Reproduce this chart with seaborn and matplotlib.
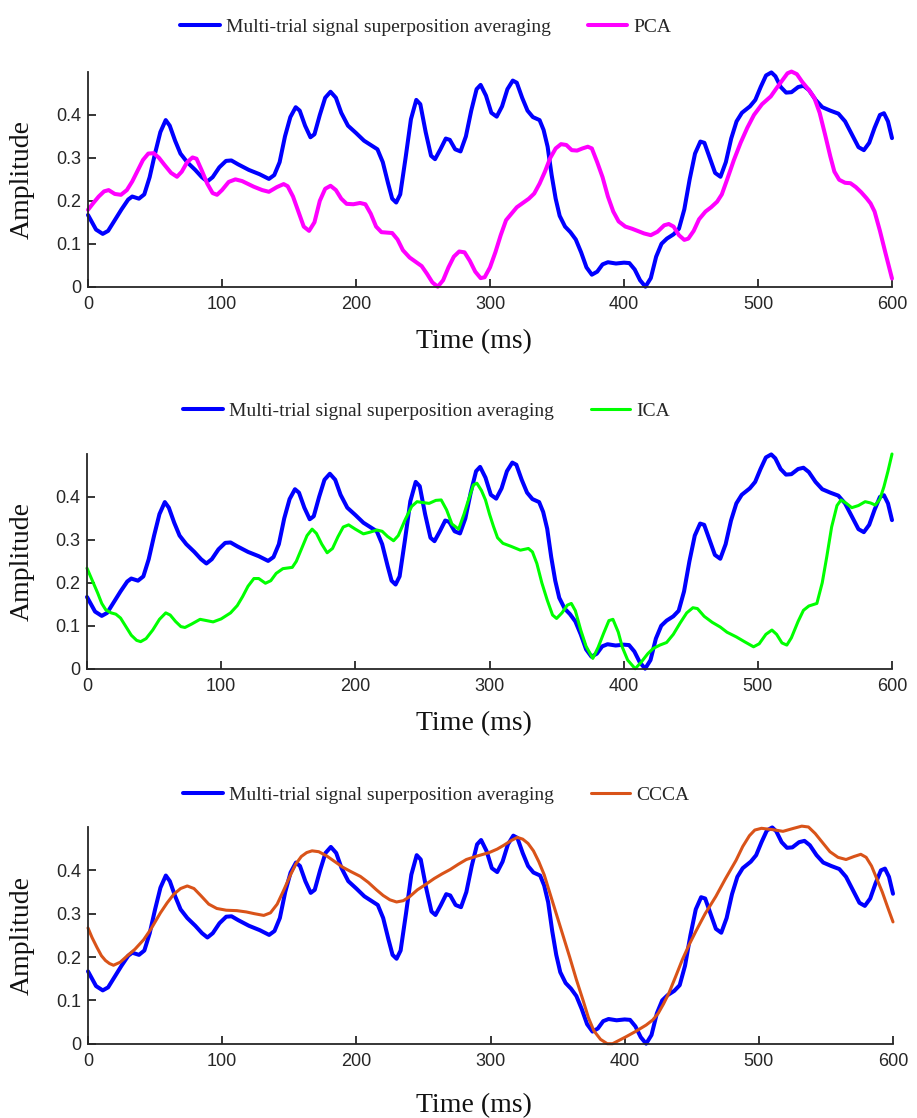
import numpy as np
import pandas as pd
import matplotlib
matplotlib.use("Agg")
import matplotlib.pyplot as plt
import seaborn as sns
from matplotlib.font_manager import FontProperties

# ---------------- data ----------------
t_avg = [0, 3, 6, 11, 15, 20, 25, 30, 33, 38, 42, 46, 50, 54, 58, 61, 65, 69, 74, 80, 85, 89,
         93, 98, 103, 107, 112, 120, 128, 135, 139, 143, 147, 151, 155, 158, 162, 166, 169,
         173, 177, 181, 185, 189, 194, 200, 206, 211, 216, 220, 224, 227, 230, 233, 237, 241,
         245, 248, 252, 256, 259, 263, 267, 270, 274, 278, 282, 286, 290, 293, 297, 301, 305,
         309, 313, 317, 320, 324, 328, 332, 337, 340, 343, 346, 349, 352, 356, 360, 364, 368,
         372, 376, 380, 384, 388, 394, 400, 404, 408, 412, 416, 420, 424, 428, 432, 437, 441,
         445, 449, 453, 457, 460, 464, 468, 472, 476, 480, 484, 488, 494, 498, 502, 506, 510,
         513, 517, 521, 525, 530, 534, 538, 543, 548, 554, 560, 565, 570, 575, 579, 583, 587,
         591, 594, 597, 600]
v_avg = [0.167, 0.15, 0.133, 0.123, 0.13, 0.155, 0.18, 0.203, 0.21, 0.205, 0.215, 0.255, 0.31,
         0.36, 0.388, 0.375, 0.34, 0.31, 0.29, 0.272, 0.255, 0.245, 0.255, 0.278, 0.293, 0.294,
         0.285, 0.272, 0.262, 0.251, 0.26, 0.29, 0.35, 0.395, 0.418, 0.41, 0.375, 0.348, 0.355,
         0.4, 0.44, 0.454, 0.44, 0.405, 0.375, 0.358, 0.34, 0.33, 0.32, 0.29, 0.24, 0.205,
         0.196, 0.215, 0.3, 0.39, 0.435, 0.425, 0.36, 0.305, 0.297, 0.32, 0.345, 0.342, 0.32,
         0.315, 0.35, 0.41, 0.46, 0.47, 0.445, 0.405, 0.396, 0.42, 0.46, 0.48, 0.475, 0.44,
         0.41, 0.395, 0.388, 0.365, 0.326, 0.26, 0.205, 0.165, 0.14, 0.127, 0.11, 0.08, 0.045,
         0.028, 0.035, 0.052, 0.057, 0.054, 0.056, 0.055, 0.04, 0.015, 0.0, 0.02, 0.07, 0.1,
         0.112, 0.122, 0.135, 0.18, 0.25, 0.31, 0.338, 0.335, 0.3, 0.265, 0.256, 0.29, 0.345,
         0.385, 0.405, 0.42, 0.435, 0.465, 0.492, 0.499, 0.49, 0.465, 0.452, 0.453, 0.465,
         0.468, 0.458, 0.435, 0.418, 0.41, 0.403, 0.385, 0.355, 0.325, 0.318, 0.335, 0.37, 0.4,
         0.404, 0.385, 0.346]

t_pca = [0, 4, 8, 12, 15.4, 20, 24.6, 29, 33, 37, 41, 45, 49, 53, 57, 62, 66.4, 70, 74, 78,
         81, 85, 89, 93, 96.3, 100, 105, 110, 115, 123.6, 130, 135, 141, 146, 149, 153, 157,
         161, 165, 169, 173, 177, 181, 185, 189, 193, 198, 203, 207, 211, 215, 219, 223, 227,
         231, 235, 240, 245, 249, 253, 257, 261, 265, 269, 273, 277, 281, 285, 289, 293, 296,
         300, 304, 308, 312, 316, 320, 324, 329, 333, 337, 341, 345, 349, 353, 357, 361, 365,
         369, 373, 376, 380, 384, 388, 392, 396, 401, 406, 410, 415, 420, 425, 430, 433.4,
         437, 441, 445, 448, 452, 456, 460.8, 465, 469.5, 473, 477, 482, 487, 492, 497, 503,
         509.5, 514, 518, 522, 525, 529, 533, 538, 542, 546, 550, 554, 557, 560.6, 565, 569,
         573, 577, 581, 584, 587, 591, 595, 600]
v_pca = [0.179, 0.195, 0.21, 0.222, 0.225, 0.216, 0.214, 0.225, 0.245, 0.27, 0.295, 0.31,
         0.311, 0.3, 0.284, 0.265, 0.256, 0.268, 0.29, 0.301, 0.298, 0.27, 0.24, 0.218, 0.214,
         0.225, 0.244, 0.25, 0.246, 0.233, 0.225, 0.221, 0.232, 0.239, 0.234, 0.21, 0.175,
         0.14, 0.13, 0.15, 0.2, 0.228, 0.235, 0.225, 0.205, 0.193, 0.192, 0.195, 0.192, 0.17,
         0.14, 0.127, 0.126, 0.125, 0.11, 0.085, 0.068, 0.057, 0.048, 0.03, 0.01, 0.0, 0.015,
         0.045, 0.07, 0.082, 0.08, 0.06, 0.035, 0.02, 0.022, 0.045, 0.08, 0.12, 0.155, 0.17,
         0.185, 0.194, 0.205, 0.217, 0.24, 0.268, 0.3, 0.322, 0.332, 0.33, 0.318, 0.317, 0.322,
         0.326, 0.322, 0.29, 0.255, 0.21, 0.175, 0.152, 0.14, 0.135, 0.13, 0.124, 0.12, 0.128,
         0.143, 0.146, 0.14, 0.12, 0.109, 0.112, 0.13, 0.157, 0.175, 0.185, 0.198, 0.215, 0.25,
         0.295, 0.335, 0.37, 0.40, 0.425, 0.443, 0.463, 0.48, 0.497, 0.501, 0.495, 0.477,
         0.458, 0.44, 0.405, 0.355, 0.303, 0.268, 0.249, 0.242, 0.241, 0.232, 0.22, 0.206,
         0.194, 0.175, 0.13, 0.08, 0.019]

t_ica = [0, 4, 8, 11, 14, 18, 21.5, 25, 29, 33, 37, 40, 44, 49, 54, 58.7, 62, 66, 70, 73, 78,
         84.3, 89, 94, 100, 107, 112, 116, 120, 124.4, 128, 133, 137, 141, 146, 153, 156, 160,
         164, 167.8, 171, 175, 179, 183, 187, 191, 195, 200, 206, 211, 216, 220, 224, 228.5,
         232, 237, 242, 246, 250, 255, 260, 264, 268, 272, 277, 281, 284, 288, 290.6, 294, 297,
         300, 303, 306, 310, 316, 323, 329, 332, 335.3, 339, 343, 347, 350, 354, 358, 361, 364,
         368, 372, 377, 381, 385, 389, 392, 396, 399, 403, 408.6, 413, 418, 422, 427, 432, 437,
         442, 447, 451.6, 455, 460, 466, 472, 477, 484, 490, 496.8, 501, 506, 510.5, 514, 518,
         521.6, 525, 530, 534, 538, 544, 548, 551.4, 555, 559, 562, 566, 570, 575, 580, 584,
         587.5, 591, 594, 597, 600]
v_ica = [0.234, 0.205, 0.176, 0.152, 0.137, 0.13, 0.127, 0.118, 0.098, 0.078, 0.066, 0.063,
         0.07, 0.09, 0.115, 0.13, 0.125, 0.11, 0.098, 0.096, 0.104, 0.115, 0.112, 0.109, 0.116,
         0.13, 0.147, 0.168, 0.192, 0.21, 0.21, 0.199, 0.205, 0.222, 0.233, 0.236, 0.25, 0.28,
         0.31, 0.325, 0.315, 0.29, 0.27, 0.28, 0.307, 0.33, 0.335, 0.325, 0.314, 0.318, 0.323,
         0.32, 0.308, 0.298, 0.31, 0.346, 0.378, 0.389, 0.387, 0.385, 0.392, 0.393, 0.37,
         0.337, 0.325, 0.36, 0.39, 0.428, 0.432, 0.415, 0.393, 0.36, 0.331, 0.305, 0.292,
         0.285, 0.276, 0.28, 0.272, 0.245, 0.2, 0.16, 0.125, 0.117, 0.13, 0.148, 0.152, 0.135,
         0.09, 0.052, 0.024, 0.05, 0.082, 0.112, 0.115, 0.085, 0.05, 0.02, 0.0, 0.015, 0.035,
         0.047, 0.055, 0.061, 0.08, 0.106, 0.13, 0.142, 0.14, 0.122, 0.108, 0.097, 0.085,
         0.074, 0.063, 0.051, 0.058, 0.08, 0.09, 0.08, 0.06, 0.055, 0.072, 0.11, 0.136, 0.146,
         0.152, 0.2, 0.261, 0.33, 0.38, 0.393, 0.385, 0.375, 0.38, 0.389, 0.386, 0.381, 0.395,
         0.424, 0.46, 0.5]

t_ccca = [0, 3, 6.7, 10, 13, 16, 19, 24, 29, 35, 41.5, 47, 54, 59, 64, 69, 74, 79, 84, 90, 96,
          103, 111, 118, 124, 131, 136, 141, 146, 151, 155, 159, 163, 167, 172, 178, 184, 190,
          196, 203, 209, 215, 220, 225, 230, 235, 240, 245.5, 251, 258, 264, 270, 276, 282,
          290, 299, 305, 310, 315, 320, 324, 328, 332, 336, 340, 344, 349, 354, 359, 364, 369,
          373, 377, 382, 387, 391, 396, 401, 408, 416, 421, 425, 429, 433, 438, 443, 448, 453,
          460, 468, 475, 483, 488, 493, 497, 502, 510, 518, 526, 532, 537, 542, 548, 553, 559,
          565, 571, 576, 580, 584, 588, 592, 596, 600]
v_ccca = [0.267, 0.245, 0.222, 0.203, 0.192, 0.185, 0.181, 0.188, 0.202, 0.218, 0.24, 0.265,
          0.302, 0.325, 0.345, 0.358, 0.364, 0.358, 0.342, 0.322, 0.312, 0.308, 0.307, 0.304,
          0.3, 0.296, 0.302, 0.322, 0.355, 0.39, 0.415, 0.432, 0.441, 0.445, 0.443, 0.433,
          0.42, 0.407, 0.397, 0.386, 0.372, 0.355, 0.342, 0.332, 0.327, 0.33, 0.34, 0.355,
          0.366, 0.381, 0.392, 0.402, 0.414, 0.425, 0.433, 0.441, 0.449, 0.458, 0.468, 0.476,
          0.472, 0.462, 0.445, 0.42, 0.39, 0.35, 0.3, 0.25, 0.2, 0.148, 0.1, 0.06, 0.03, 0.01,
          0.0, 0.0, 0.008, 0.016, 0.028, 0.043, 0.055, 0.07, 0.092, 0.117, 0.155, 0.194, 0.228,
          0.259, 0.3, 0.34, 0.38, 0.423, 0.455, 0.48, 0.493, 0.497, 0.494, 0.49, 0.497, 0.502,
          0.5, 0.485, 0.462, 0.443, 0.43, 0.425, 0.432, 0.437, 0.43, 0.41, 0.38, 0.35, 0.315,
          0.281]

avg_label = "Multi-trial signal superposition averaging"
method_labels = ["PCA", "ICA", "CCCA"]
method_t = [t_pca, t_ica, t_ccca]
method_v = [v_pca, v_ica, v_ccca]
method_colors = ["#FF00FF", "#00FF00", "#D95319"]
method_lw = [2.9, 2.2, 2.2]
x_ticks = [0, 100, 200, 300, 400, 500, 600]
y_ticks = [0, 0.1, 0.2, 0.3, 0.4]
y_ticklabels = ["0", "0.1", "0.2", "0.3", "0.4"]

# ---------------- figure ----------------
sns.set_style("ticks")
plt.rcParams["font.family"] = ["Liberation Serif", "DejaVu Serif"]

W, H = 917, 1118
fig = plt.figure(figsize=(W / 100, H / 100), dpi=100)

# axes boxes in pixels: (left, top, right, bottom)
boxes = [(88, 72, 892, 286.7), (87, 454, 892, 668.7), (88, 827, 893, 1043.7)]
leg_left_px = [180, 183, 183]
leg_y_px = [27, 411, 795]
xlabel_off = [55, 55, 62]

tick_font = FontProperties(family="Liberation Sans", size=13)
label_font = FontProperties(family="Liberation Serif", size=20)
leg_font = FontProperties(family="Liberation Serif", size=14)

for i in range(3):
    l, t, r, b = boxes[i]
    ax = fig.add_axes([l / W, 1 - b / H, (r - l) / W, (b - t) / H])
    sns.lineplot(x=t_avg, y=v_avg, ax=ax, color="#0000FF", lw=2.9, label=avg_label,
                 estimator=None, sort=False)
    sns.lineplot(x=method_t[i], y=method_v[i], ax=ax, color=method_colors[i],
                 lw=method_lw[i], label=method_labels[i], estimator=None, sort=False)
    for ln in ax.get_lines():
        ln.set_clip_on(False)
        ln.set_solid_joinstyle("round")
    ax.set_xlim(0, 600)
    ax.set_ylim(0, 0.5)
    ax.set_xticks(x_ticks)
    ax.set_xticklabels([str(v) for v in x_ticks], fontproperties=tick_font, color="#262626")
    ax.set_yticks(y_ticks)
    ax.set_yticklabels(y_ticklabels, fontproperties=tick_font, color="#262626")
    ax.tick_params(direction="in", length=6, width=1.3, color="#262626")
    ax.tick_params(axis="x", pad=7)
    ax.tick_params(axis="y", pad=5)
    sns.despine(ax=ax)
    for s in ["left", "bottom"]:
        ax.spines[s].set_linewidth(1.3)
        ax.spines[s].set_color("#262626")

    ax.set_xlabel("Time (ms)", fontproperties=label_font, color="#111111")
    ax.xaxis.set_label_coords((474 - l) / (r - l), -xlabel_off[i] / (b - t))
    ax.xaxis.label.set_va("center")
    ax.set_ylabel("Amplitude", fontproperties=label_font, color="#111111")
    ax.yaxis.set_label_coords((22.5 - l) / (r - l), 0.5)
    ax.yaxis.label.set_va("center")
    ax.yaxis.label.set_ha("center")

    ax.legend(loc="center left",
              bbox_to_anchor=((leg_left_px[i] - l) / (r - l), (b - leg_y_px[i]) / (b - t)),
              ncol=2, frameon=False, prop=leg_font, handlelength=2.05, handletextpad=0.3,
              columnspacing=1.9, borderpad=0, borderaxespad=0)

fig.savefig("out.png", dpi=100)
